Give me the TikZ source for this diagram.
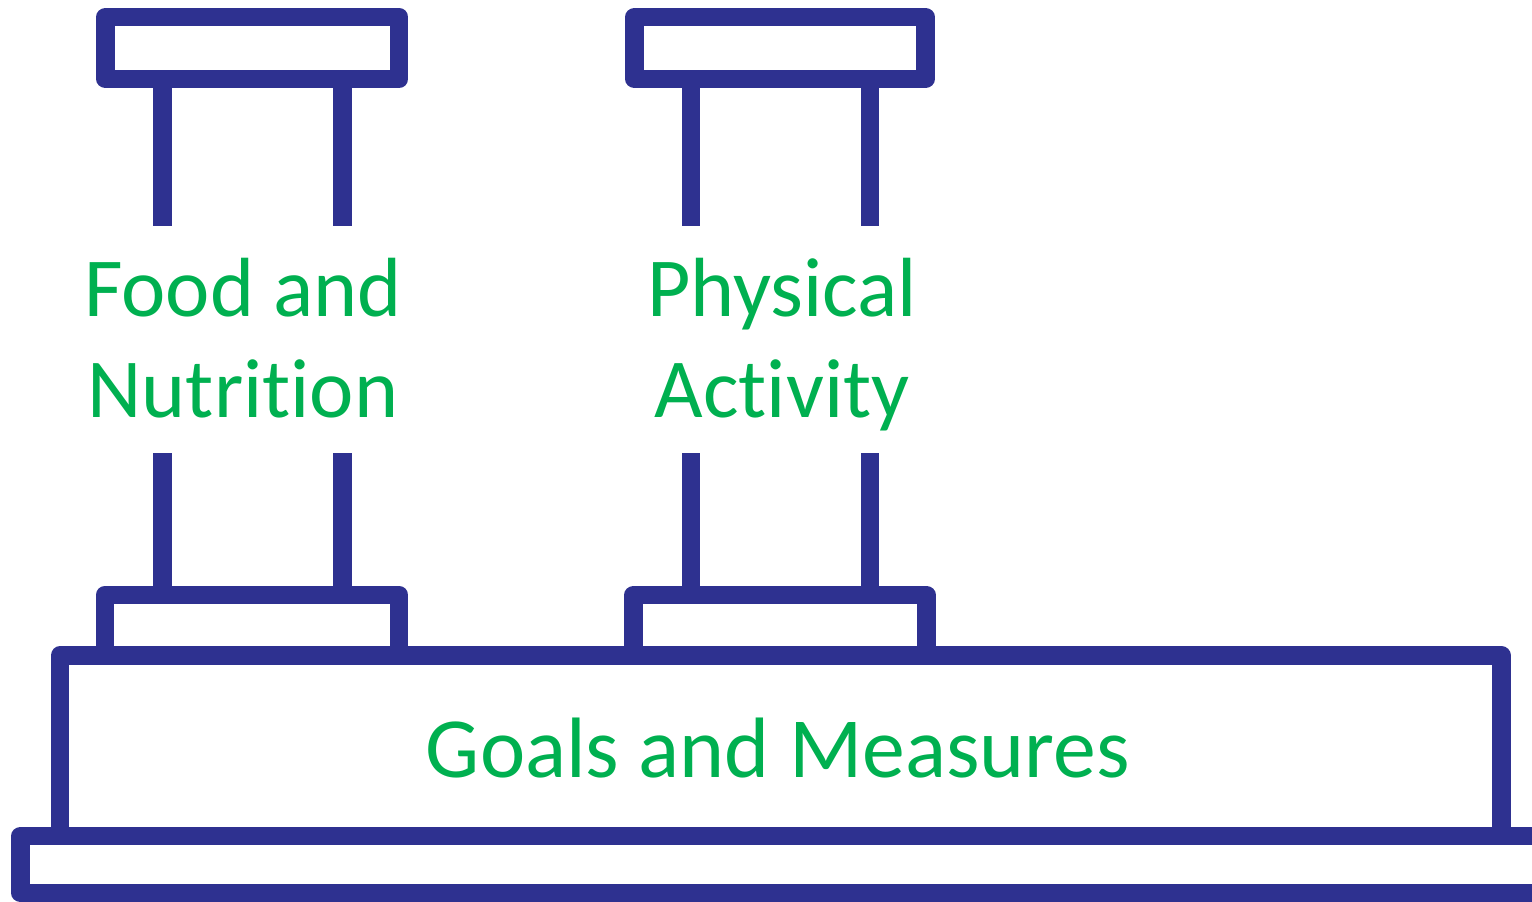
\documentclass[tikz,border=0pt]{standalone}
\usepackage{fontspec}
\setmainfont{Carlito}[Ligatures=NoCommon]
\definecolor{pillarblue}{RGB}{46,49,144}
\definecolor{labelgreen}{RGB}{0,176,80}
\begin{document}
\begin{tikzpicture}[x=0.02cm,y=-0.02cm,
  frame/.style={draw=pillarblue,line width=10.5pt,line join=round},
  leg/.style={draw=pillarblue,line width=10.5pt,line cap=butt},
  label/.style={text=labelgreen,font={\fontsize{47.8}{57.5}\selectfont},align=center,anchor=base,inner sep=0pt},
  biglabel/.style={text=labelgreen,font={\fontsize{48.8}{58}\selectfont},anchor=base,inner sep=0pt}]
\useasboundingbox (0,0) rectangle (1532,902);
\clip (0,0) rectangle (1532,902);
% base plinth
\draw[frame] (20.5,836) rectangle (1560,893);
% main block
\draw[frame] (60,655.5) rectangle (1501.5,836);
% lower caps
\draw[frame] (105,595) rectangle (399,655.5);
\draw[frame] (633.5,595) rectangle (926.5,655.5);
% upper caps
\draw[frame] (105.5,17) rectangle (399,79);
\draw[frame] (634.5,17) rectangle (925.5,79);
% legs upper
\draw[leg] (162.5,79) -- (162.5,226);
\draw[leg] (342.5,79) -- (342.5,226);
\draw[leg] (691,79) -- (691,226);
\draw[leg] (870,79) -- (870,226);
% legs lower
\draw[leg] (162.5,453) -- (162.5,595);
\draw[leg] (342.5,453) -- (342.5,595);
\draw[leg] (691,453) -- (691,595);
\draw[leg] (870,453) -- (870,595);
% labels
\node[label] (food) at (243,418) {Food and\\Nutrition};
\node[label] (phys) at (782,418) {Physical\\Activity};
\node[biglabel] (goals) at (778,777) {Goals and Measures};
\end{tikzpicture}
\end{document}
